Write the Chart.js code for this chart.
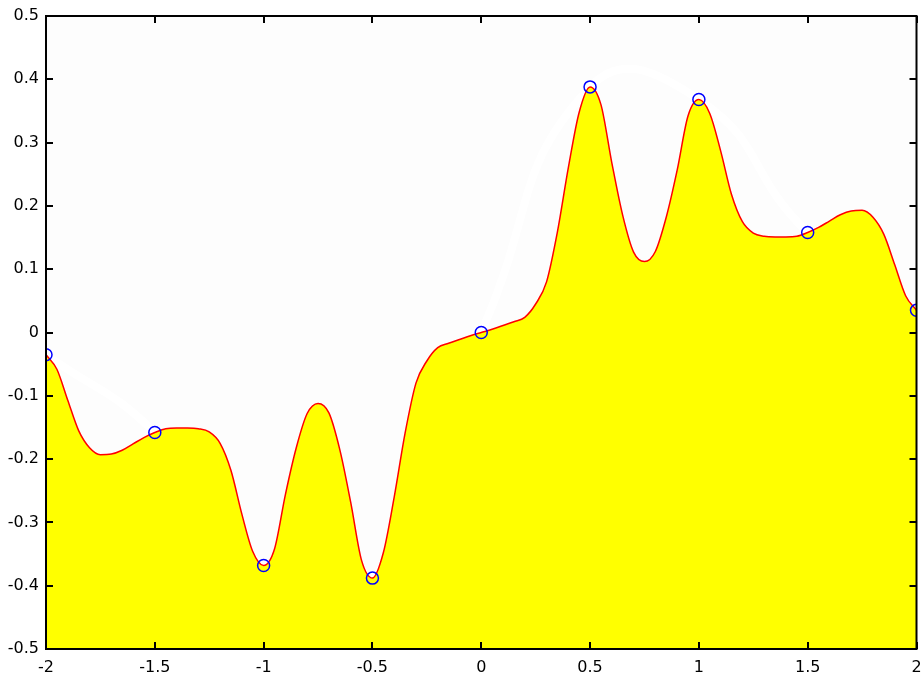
<!DOCTYPE html>
<html>
<head>
<meta charset="utf-8">
<script src="https://cdn.jsdelivr.net/npm/chart.js@4"></script>
<style>
  html, body { margin: 0; padding: 0; background: #ffffff; }
  #wrap { width: 924px; height: 677px; }
</style>
</head>
<body>
<div id="wrap"><canvas id="plot" width="924" height="677"></canvas></div>
<script>
// sampled curve
const xValues = [
    -2.00, -1.95, -1.90, -1.85, -1.80, -1.75, -1.70, -1.65, -1.60, -1.55,
    -1.50, -1.45, -1.40, -1.35, -1.30, -1.25, -1.20, -1.15, -1.10, -1.05,
    -1.00, -0.95, -0.90, -0.85, -0.80, -0.75, -0.70, -0.65, -0.60, -0.55,
    -0.50, -0.45, -0.40, -0.35, -0.30, -0.25, -0.20, -0.15, -0.10, -0.05,
    0.00, 0.05, 0.10, 0.15, 0.20, 0.25, 0.30, 0.35, 0.40, 0.45,
    0.50, 0.55, 0.60, 0.65, 0.70, 0.75, 0.80, 0.85, 0.90, 0.95,
    1.00, 1.05, 1.10, 1.15, 1.20, 1.25, 1.30, 1.35, 1.40, 1.45,
    1.50, 1.55, 1.60, 1.65, 1.70, 1.75, 1.80, 1.85, 1.90, 1.95,
    2.00
];
const yValues = [
    -0.035, -0.058, -0.107, -0.155, -0.182, -0.193, -0.192, -0.186, -0.176, -0.166,
    -0.158, -0.152, -0.151, -0.151, -0.152, -0.157, -0.175, -0.218, -0.287, -0.346,
    -0.368, -0.342, -0.256, -0.182, -0.128, -0.112, -0.127, -0.185, -0.268, -0.360,
    -0.388, -0.348, -0.260, -0.159, -0.080, -0.045, -0.024, -0.017, -0.011, -0.005,
    0.000, 0.005, 0.011, 0.017, 0.024, 0.045, 0.080, 0.159, 0.260, 0.348,
    0.388, 0.360, 0.268, 0.185, 0.127, 0.112, 0.128, 0.182, 0.256, 0.342,
    0.368, 0.346, 0.287, 0.218, 0.175, 0.157, 0.152, 0.151, 0.151, 0.152,
    0.158, 0.166, 0.176, 0.186, 0.192, 0.193, 0.182, 0.155, 0.107, 0.058,
    0.035
];

// sample points (circles)
const sampleX = [-2, -1.5, -1, -0.5, 0, 0.5, 1, 1.5, 2];
const sampleY = [-0.035, -0.158, -0.368, -0.388, 0, 0.388, 0.368, 0.158, 0.035];

const xTicks = [-2, -1.5, -1, -0.5, 0, 0.5, 1, 1.5, 2];
const yTicks = [-0.5, -0.4, -0.3, -0.2, -0.1, 0, 0.1, 0.2, 0.3, 0.4, 0.5];

const curvePoints = xValues.map((x, i) => ({ x: x, y: yValues[i] }));
const samplePoints = sampleX.map((x, i) => ({ x: x, y: sampleY[i] }));

function fmt(v) {
    const r = Math.round(v * 10) / 10;
    return r === 0 ? '0' : String(r);
}

// plot background, box and inward ticks
const axesBox = {
    id: 'axesBox',
    beforeDraw(chart) {
        const a = chart.chartArea;
        const ctx = chart.ctx;
        ctx.save();
        ctx.fillStyle = '#fdfdfd';
        ctx.fillRect(a.left, a.top, a.right - a.left, a.bottom - a.top);
        ctx.restore();
    },
    afterDraw(chart) {
        const a = chart.chartArea;
        const ctx = chart.ctx;
        const xs = chart.scales.x;
        const ys = chart.scales.y;
        const len = 7;
        ctx.save();
        ctx.strokeStyle = '#000000';
        ctx.lineWidth = 2;
        ctx.beginPath();
        xTicks.forEach(v => {
            const px = Math.round(xs.getPixelForValue(v));
            ctx.moveTo(px, a.bottom);
            ctx.lineTo(px, a.bottom - len);
            ctx.moveTo(px, a.top);
            ctx.lineTo(px, a.top + len);
        });
        yTicks.forEach(v => {
            const py = Math.round(ys.getPixelForValue(v));
            ctx.moveTo(a.left, py);
            ctx.lineTo(a.left + len, py);
            ctx.moveTo(a.right, py);
            ctx.lineTo(a.right - len, py);
        });
        ctx.stroke();
        ctx.strokeRect(a.left, a.top, a.right - a.left, a.bottom - a.top);
        ctx.restore();
    }
};

new Chart(document.getElementById('plot'), {
    type: 'line',
    data: {
        datasets: [
            {
                // faint smooth curve through the samples
                data: samplePoints,
                borderColor: '#ffffff',
                borderWidth: 8,
                pointRadius: 0,
                tension: 0.5,
                fill: false,
                order: 3
            },
            {
                data: curvePoints,
                borderColor: '#ff0000',
                borderWidth: 1.5,
                backgroundColor: '#ffff00',
                fill: 'start',
                pointRadius: 0,
                cubicInterpolationMode: 'monotone',
                order: 2
            },
            {
                data: samplePoints,
                showLine: false,
                pointRadius: 6,
                pointBorderWidth: 1.5,
                pointBorderColor: '#0000ff',
                pointBackgroundColor: 'rgba(0,0,0,0)',
                order: 1
            }
        ]
    },
    options: {
        responsive: false,
        animation: false,
        events: [],
        layout: { padding: { top: 16, right: 7, left: 0, bottom: 0 } },
        plugins: {
            legend: { display: false },
            tooltip: { enabled: false }
        },
        scales: {
            x: {
                type: 'linear',
                min: -2,
                max: 2,
                grid: { display: false, drawTicks: false },
                border: { display: false },
                afterBuildTicks: scale => { scale.ticks = xTicks.map(v => ({ value: v })); },
                afterFit: scale => {
                    scale.height = 28;
                    scale.paddingLeft = 0;
                    scale.paddingRight = 0;
                },
                ticks: {
                    callback: v => fmt(v),
                    color: '#000000',
                    padding: 9,
                    maxRotation: 0,
                    autoSkip: false,
                    font: { family: 'DejaVu Sans', size: 16 }
                }
            },
            y: {
                type: 'linear',
                min: -0.5,
                max: 0.5,
                grid: { display: false, drawTicks: false },
                border: { display: false },
                afterBuildTicks: scale => { scale.ticks = yTicks.map(v => ({ value: v })); },
                afterFit: scale => {
                    scale.width = 46;
                    scale.paddingTop = 0;
                    scale.paddingBottom = 0;
                },
                ticks: {
                    callback: v => fmt(v),
                    color: '#000000',
                    padding: 7,
                    autoSkip: false,
                    font: { family: 'DejaVu Sans', size: 16 }
                }
            }
        }
    },
    plugins: [axesBox]
});
</script>
</body>
</html>
